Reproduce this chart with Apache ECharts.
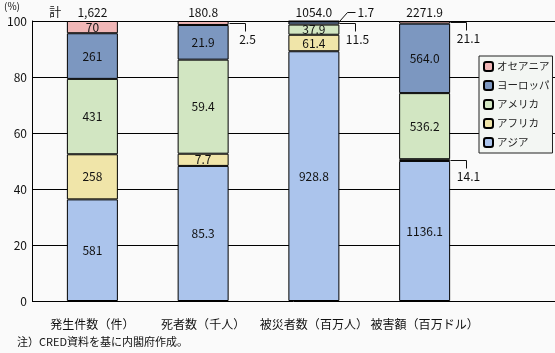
<!DOCTYPE html>
<html><head><meta charset="utf-8">
<script src="https://cdn.jsdelivr.net/npm/echarts@6/dist/echarts.min.js"></script>
<style>html,body{margin:0;padding:0;background:#fafafa}#c{width:555px;height:353px}</style>
</head><body><div id="c"></div>
<script>
const categories = ['発生件数（件）', '死者数（千人）', '被災者数（百万人）', '被害額（百万ドル）'];
const totals = ['1,622', '180.8', '1054.0', '2271.9'];
const decimals = [0, 1, 1, 1];
const regionNames = ['アジア', 'アフリカ', 'アメリカ', 'ヨーロッパ', 'オセアニア'];
const asia = [581, 85.3, 928.8, 1136.1];
const africa = [258, 7.7, 61.4, 14.1];
const america = [431, 59.4, 37.9, 536.2];
const europe = [261, 21.9, 11.5, 564.0];
const oceania = [70, 2.5, 1.7, 21.1];
const yTicks = [0, 20, 40, 60, 80, 100];
// segments labelled outside with a leader line: [category index, region index, style]
const callouts = [[1, 4, 'elbow'], [2, 4, 'up'], [2, 3, 'elbow'], [3, 4, 'elbow'], [3, 1, 'elbow']];

const colors = ['#abc4ec', '#f0e5a9', '#d2e6c2', '#7c97c0', '#f0b6b6'];
const regionValues = [asia, africa, america, europe, oceania];
const sums = categories.map((_, i) => regionValues.reduce((s, a) => s + a[i], 0));
const isOut = (ci, ri) => callouts.some(c => c[0] === ci && c[1] === ri);
const FONT = 'Noto Sans CJK JP';

const chart = echarts.init(document.getElementById('c'), null, {renderer: 'canvas'});
const series = regionValues.map((vals, ri) => ({
  name: regionNames[ri], type: 'bar', stack: 'total', xAxisIndex: 0, yAxisIndex: 0,
  barWidth: 51, z: 3,
  itemStyle: {color: colors[ri], borderColor: '#000', borderWidth: 1},
  label: {show: true, position: 'inside', color: '#111', fontFamily: FONT, fontSize: 12},
  emphasis: {disabled: true},
  data: vals.map((v, ci) => ({
    value: v / sums[ci] * 100,
    raw: v.toFixed(decimals[ci]),
    label: {show: !isOut(ci, ri)}
  }))
}));
series.forEach(s => s.label.formatter = p => p.data.raw);

chart.setOption({
  backgroundColor: '#fafafa',
  animation: false,
  textStyle: {fontFamily: FONT},
  grid: [
    {left: 37, top: 21, width: 443, bottom: 52, containLabel: false},
    {left: 32, top: 21, right: -2, bottom: 52, containLabel: false}
  ],
  xAxis: [
    {type: 'category', gridIndex: 0, data: categories,
     axisLine: {show: false}, axisTick: {show: false},
     axisLabel: {color: '#111', fontSize: 12, margin: 17, fontFamily: FONT, interval: 0}},
    {type: 'value', gridIndex: 1, show: false, min: 0, max: 1}
  ],
  yAxis: [
    {type: 'value', gridIndex: 0, min: 0, max: 100, show: false},
    {type: 'value', gridIndex: 1, min: 0, max: 100, interval: 20,
     axisLine: {show: true, lineStyle: {color: '#000', width: 1}},
     axisTick: {show: false},
     splitLine: {show: true, lineStyle: {color: '#000', width: 1}},
     axisLabel: {color: '#111', fontSize: 12, margin: 5, fontFamily: FONT}}
  ],
  legend: {
    orient: 'vertical', left: 479, top: 56,
    data: regionNames.slice().reverse(),
    itemWidth: 9, itemHeight: 9, itemGap: 8,
    padding: [5, 3, 5, 4],
    backgroundColor: '#f3f6f3', borderColor: '#222', borderWidth: 1,
    textStyle: {fontSize: 10.5, color: '#222', fontFamily: FONT, padding: [0, 0, 0, -1]},
    selectedMode: false
  },
  series: series
});

// annotations from the scales
const g = [];
const barW = 51;
const px = (ci, pct) => chart.convertToPixel({xAxisIndex: 0, yAxisIndex: 0}, [ci, pct]);
const textStyle = (t, x, y, align, size) => ({type: 'text', x: x, y: y, style: {text: t, fill: '#111', font: (size || 12) + 'px "' + FONT + '"', align: align || 'center', verticalAlign: 'middle'}});
categories.forEach((c, ci) => {
  const p = px(ci, 100);
  g.push(textStyle(totals[ci], p[0], p[1] - 9));
});
const p0 = px(0, 100);
g.push(textStyle('計', p0[0] - 37, p0[1] - 9));
g.push(textStyle('(%)', 4, 6, 'left', 10));
g.push(textStyle('注）CRED資料を基に内閣府作成。', 17, 342, 'left', 11));

callouts.forEach(([ci, ri, style]) => {
  let below = 0;
  for (let k = 0; k < ri; k++) below += regionValues[k][ci];
  const v = regionValues[ri][ci];
  const mid = (below + v / 2) / sums[ci] * 100;
  const p = px(ci, mid);
  const x0 = Math.round(p[0] + barW / 2) + 0.5;
  const y0 = Math.round(p[1]) + 0.5;
  const txt = v.toFixed(decimals[ci]);
  if (style === 'elbow') {
    const xc = x0 + 16;
    g.push({type: 'polyline', shape: {points: [[x0, y0], [xc, y0], [xc, y0 + 8]]}, style: {stroke: '#111', lineWidth: 1, fill: null}});
    g.push(textStyle(txt, xc + 2, y0 + 16));
  } else {
    g.push({type: 'polyline', shape: {points: [[x0, y0], [x0 + 8, y0 - 9], [x0 + 16, y0 - 9]]}, style: {stroke: '#111', lineWidth: 1, fill: null}});
    g.push(textStyle(txt, x0 + 18, y0 - 9, 'left'));
  }
});
chart.setOption({graphic: g});
</script></body></html>
